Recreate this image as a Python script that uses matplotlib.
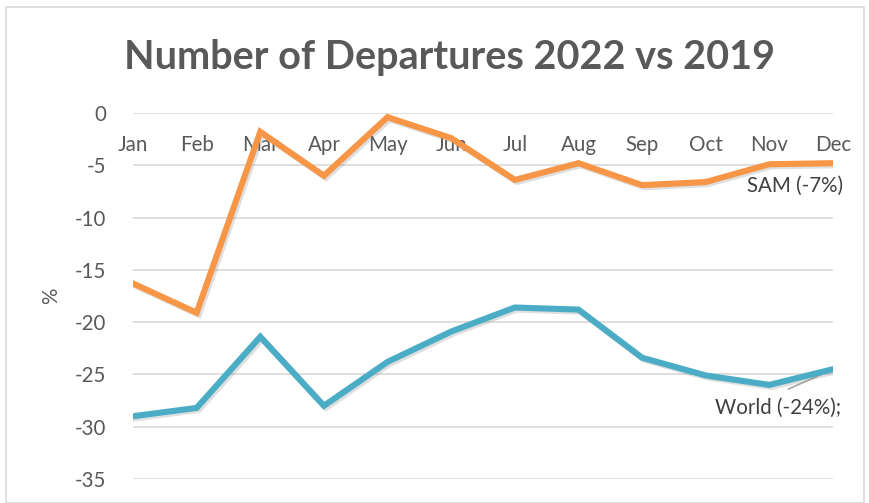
import matplotlib
matplotlib.use("Agg")
import matplotlib.pyplot as plt
import matplotlib.patheffects as pe
from matplotlib.patches import Rectangle

months = ["Jan", "Feb", "Mar", "Apr", "May", "Jun", "Jul", "Aug", "Sep", "Oct", "Nov", "Dec"]
sam = [-16.3, -19.1, -1.8, -6.0, -0.4, -2.4, -6.4, -4.8, -6.9, -6.6, -4.9, -4.8]
world = [-29.0, -28.2, -21.4, -28.0, -23.8, -20.9, -18.6, -18.8, -23.4, -25.1, -26.0, -24.5]

txt = "#595959"
plt.rcParams["font.family"] = ["Lato", "DejaVu Sans"]
plt.rcParams["axes.unicode_minus"] = False
fs = 14.8

fig = plt.figure(figsize=(8.7, 5.03), dpi=100)
fig.patches.append(Rectangle((6 / 870, 0), 858 / 870, 1 - 7 / 503, transform=fig.transFigure,
                             fill=False, edgecolor="#d9d9d9", linewidth=1.2))

ax = fig.add_axes([133 / 870, 1 - 479 / 503, 700 / 870, 366 / 503])
x = list(range(len(months)))

shadow = [pe.SimpleLineShadow(offset=(1.5, -1.5), shadow_color="gray", alpha=0.25), pe.Normal()]
ax.plot(x, sam, color="#F79646", lw=4.4, solid_joinstyle="miter", path_effects=shadow, zorder=3)
ax.plot(x, world, color="#4BACC6", lw=4.4, solid_joinstyle="miter", path_effects=shadow, zorder=3)

ax.set_xlim(0, 11)
ax.set_ylim(-35, 0)
ax.set_yticks(range(-35, 1, 5))
ax.set_xticks(x)
ax.set_xticklabels(months)
ax.tick_params(axis="x", bottom=False, top=False, labelbottom=False, labeltop=True,
               pad=-33.5, labelsize=fs, labelcolor=txt)
ax.tick_params(axis="y", left=False, pad=16, labelsize=fs, labelcolor=txt)
ax.grid(axis="y", color="#d9d9d9", lw=1.2)
ax.set_axisbelow(True)
for s in ax.spines.values():
    s.set_visible(False)

ax.set_ylabel("%", color=txt, fontsize=fs, labelpad=10)

ax.text(10.41, -6.98, "SAM (-7%)", ha="center", va="center", fontsize=fs, color="#404040")
# leader line from the World label up to the Dec point
ax.annotate("", xy=(11, world[-1]), xytext=(10.3, -26.4),
            arrowprops=dict(arrowstyle="-", color="#a6a6a6", lw=1.2, shrinkA=0, shrinkB=2), zorder=2)
ax.text(10.13, -28.2, "World (-24%);", ha="center", va="center", fontsize=fs, color="#404040")

fig.text(450 / 870, 1 - 57 / 503, "Number of Departures 2022 vs 2019", ha="center", va="center",
         fontsize=28.5, fontweight="bold", color=txt)

fig.savefig("out.png", dpi=100)
